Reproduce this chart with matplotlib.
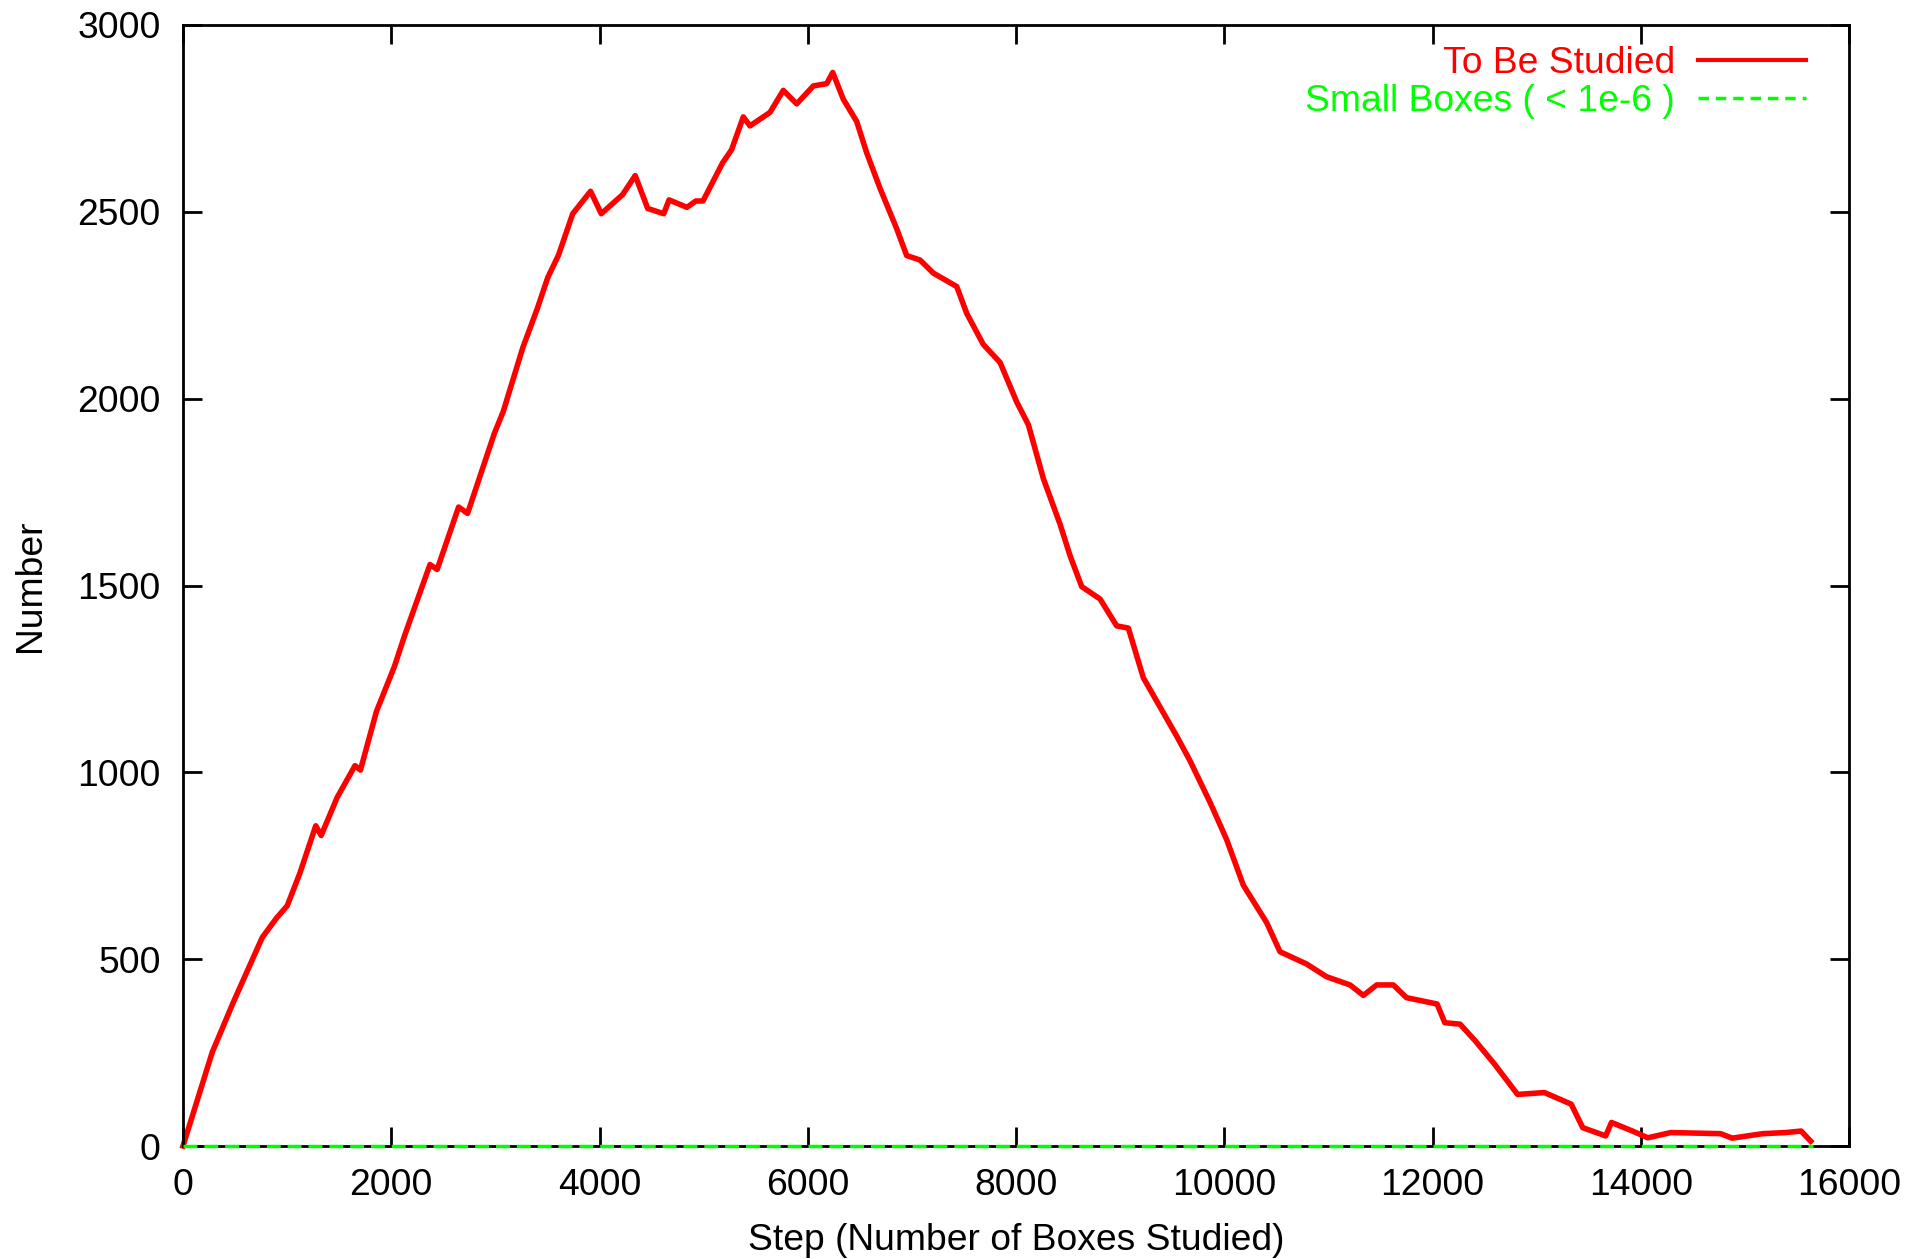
import numpy as np
import matplotlib
matplotlib.use("Agg")
import matplotlib.pyplot as plt

# valores (aprox.)
steps = [0, 281, 487, 761, 898, 1001, 1121, 1275, 1327, 1481,
         1652, 1704, 1858, 2030, 2132, 2372, 2441, 2647, 2733, 2990,
         3076, 3264, 3400, 3503, 3606, 3743, 3914, 4017, 4222, 4343,
         4463, 4617, 4668, 4840, 4925, 4994, 5182, 5268,
         5381, 5445, 5637, 5765, 5894, 6054, 6182, 6240, 6342, 6470,
         6566, 6694, 6854, 6950, 7078, 7206, 7431, 7527, 7686,
         7847, 8007, 8119, 8263, 8423, 8519, 8631, 8807, 8967, 9079,
         9223, 9383, 9543, 9671, 9863, 10023, 10183, 10407, 10535, 10791,
         10983, 11208, 11336, 11464, 11624, 11750,
         12044, 12118, 12265, 12412, 12596, 12817, 13075, 13332, 13443, 13663,
         13719, 13921, 14068, 14289, 14767, 14878, 15172, 15393, 15540, 15632]
to_be_studied = [0, 251, 387, 558, 610, 643, 729, 857, 831, 933,
                 1018, 1006, 1163, 1283, 1369, 1556, 1543, 1710, 1693, 1907,
                 1966, 2137, 2239, 2324, 2384, 2495, 2555, 2495, 2546, 2597,
                 2509, 2495, 2532, 2512, 2529, 2529, 2631, 2666,
                 2754, 2730, 2766, 2825, 2789, 2837, 2843, 2873, 2801, 2742,
                 2658, 2563, 2455, 2383, 2371, 2336, 2300, 2228, 2145,
                 2097, 1991, 1930, 1786, 1664, 1580, 1497, 1464, 1392, 1386,
                 1253, 1175, 1097, 1031, 920, 820, 698, 598, 520, 487,
                 453, 431, 403, 431, 431, 397,
                 380, 330, 326, 281, 219, 138, 143, 112, 49, 27,
                 63, 40, 22, 36, 33, 21, 33, 36, 40, 13]
small_steps = [0, 15650]
small_boxes = [0, 0]

plt.rcParams['font.family'] = ['Liberation Sans', 'DejaVu Sans']
fs = 26.8

fig = plt.figure(figsize=(19.09, 12.59), dpi=100)
ax = fig.add_axes([183 / 1909, 1 - 1146 / 1259, (1849 - 183) / 1909, (1146 - 25) / 1259])

ax.plot(steps, to_be_studied, color='#ff0000', lw=4, label='To Be Studied',
        clip_on=False)
ax.plot(small_steps, small_boxes, color='#00ff00', lw=2.5, ls=(0, (4, 2)),
        label='Small Boxes ( < 1e-6 )', clip_on=False, zorder=3)

ax.set_xlim(0, 16000)
ax.set_ylim(0, 3000)
ax.set_xticks(range(0, 16001, 2000))
ax.set_yticks(range(0, 3001, 500))
ax.tick_params(direction='in', length=14, width=2, top=True, right=True,
               labelsize=fs, pad=16)
for s in ax.spines.values():
    s.set_linewidth(2)

ax.set_xlabel('Step (Number of Boxes Studied)', fontsize=fs, labelpad=14)
ax.set_ylabel('Number', fontsize=fs, labelpad=21)

leg = ax.legend(loc='upper right', bbox_to_anchor=(1806 / 1909, 1 - 46 / 1259),
                bbox_transform=fig.transFigure, frameon=False, markerfirst=False,
                fontsize=fs, handlelength=2.9, handletextpad=0.62, borderpad=0,
                borderaxespad=0, labelspacing=0.08)
for txt, c in zip(leg.get_texts(), ['#ff0000', '#00ff00']):
    txt.set_color(c)
leg.get_lines()[0].set_linewidth(3)
leg.get_lines()[1].set_dashes((3, 2))

fig.savefig('out.png', dpi=100)
